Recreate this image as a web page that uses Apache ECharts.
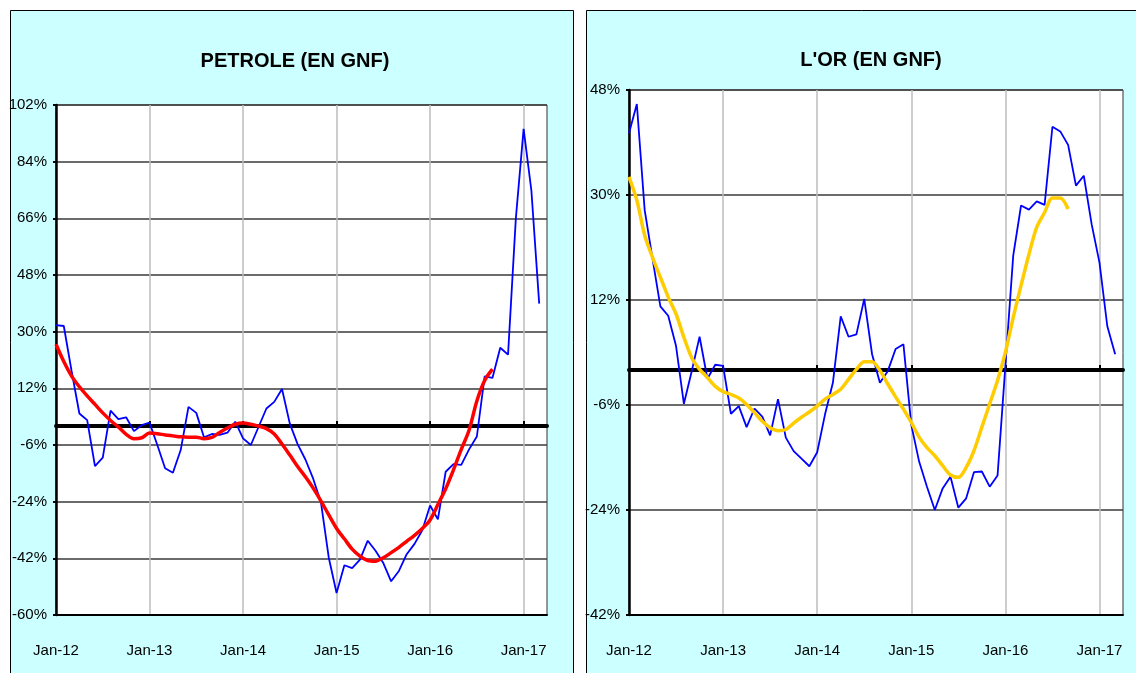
<!DOCTYPE html>
<html>
<head>
<meta charset="utf-8">
<title>PETROLE / L'OR (EN GNF)</title>
<script src="https://cdn.jsdelivr.net/npm/echarts@6/dist/echarts.min.js"></script>
<style>
	html, body { margin: 0; padding: 0; background: #fff; }
	#chart { width: 1136px; height: 673px; }
</style>
</head>
<body>
<div id="chart"></div>
<script>
// mois : Jan-12 ... Apr-17
var monthNames = ['Jan', 'Feb', 'Mar', 'Apr', 'May', 'Jun', 'Jul', 'Aug', 'Sep', 'Oct', 'Nov', 'Dec'];
var years = ['12', '13', '14', '15', '16', '17'];
var categories = [];
for (var y = 0; y < years.length; y++) {
	for (var m = 0; m < 12; m++) {
		if (y == years.length - 1 && m > 3) break;
		categories.push(monthNames[m] + '-' + years[y]);
	}
}

// petrole : variation (%) et tendance
var petroleVar = [32.1, 31.8, 17.5, 4.0, 1.9, -12.7, -10.0, 4.9, 2.2, 2.8,
	-1.6, 0.3, 1.1, -6.0, -13.4, -14.8, -7.6, 6.1, 4.2, -3.6,
	-2.5, -2.8, -2.1, 1.4, -3.9, -6.0, -0.2, 5.6, 7.7, 11.8,
	0.8, -5.7, -10.6, -16.7, -24.3, -41.8, -53.0, -44.2, -45.1, -42.4,
	-36.4, -39.6, -43.5, -49.3, -46.0, -40.7, -37.4, -33.1, -25.2, -29.6,
	-14.5, -12.1, -12.3, -7.4, -3.3, 15.8, 15.3, 24.9, 22.7, 65.9,
	94.4, 74.7, 38.9];
var petroleTrend = [26.0, 20.5, 15.9, 12.5, 9.6, 6.9, 4.2, 1.8, -0.3, -2.6,
	-4.0, -3.7, -2.2, -2.4, -2.8, -3.1, -3.4, -3.5, -3.5, -4.0,
	-3.6, -2.0, -0.6, 0.6, 1.0, 0.6, 0.0, -0.8, -2.5, -5.7,
	-9.2, -12.8, -16.1, -19.7, -23.8, -28.2, -32.5, -35.8, -39.1, -41.3,
	-42.7, -42.9, -41.8, -40.2, -38.5, -36.6, -34.7, -32.5, -29.8, -24.9,
	-19.9, -13.9, -7.4, -1.3, 8.0, 14.5, 18.1];

// or : variation (%) et tendance
var orVar = [40.6, 45.6, 27.4, 19.1, 10.9, 9.3, 4.1, -5.8, -0.2, 5.7,
	-1.5, 0.9, 0.7, -7.5, -6.2, -9.8, -6.6, -8.0, -11.2, -5.0,
	-11.6, -13.9, -15.2, -16.5, -14.1, -7.6, -2.2, 9.2, 5.7, 6.1,
	12.2, 2.7, -2.2, -0.2, 3.6, 4.4, -9.4, -15.7, -20.0, -24.0,
	-20.3, -18.3, -23.6, -22.0, -17.5, -17.4, -20.0, -18.1, 0.7, 19.6,
	28.2, 27.5, 28.9, 28.3, 41.7, 40.9, 38.6, 31.6, 33.3, 25.0,
	18.4, 7.5, 2.7];
var orTrend = [33.1, 29.1, 23.1, 19.3, 15.9, 12.5, 9.6, 5.6, 2.1, 0.1,
	-1.3, -2.8, -3.7, -4.2, -4.8, -5.9, -7.3, -8.8, -9.9, -10.4,
	-10.2, -9.1, -8.1, -7.2, -6.2, -5.0, -4.2, -3.3, -1.6, 0.1,
	1.4, 1.4, -0.1, -2.4, -4.6, -6.7, -9.0, -11.5, -13.3, -14.7,
	-16.4, -18.0, -18.4, -16.7, -13.8, -9.8, -5.8, -1.8, 3.0, 9.0,
	14.5, 19.8, 24.5, 27.0, 29.5, 29.5, 27.6];

// axes y
var petroleAxis = { min: -60, max: 102, interval: 18 };
var orAxis = { min: -42, max: 48, interval: 18 };

var FONT = '"Liberation Sans Narrow", "Arial Narrow", "Liberation Sans", sans-serif';

function isJan(index) {
	return index % 12 === 0;
}

// axe x avec etiquettes en bas
function labelAxis(gridIndex) {
	return {
		type: 'category',
		gridIndex: gridIndex,
		data: categories,
		boundaryGap: false,
		position: 'bottom',
		axisLine: { onZero: false, lineStyle: { color: '#000', width: 2 } },
		axisTick: { show: false },
		axisLabel: {
			interval: function (i) { return isJan(i) && i < 61; },
			color: '#000', fontFamily: FONT, fontSize: 15, margin: 28
		},
		splitLine: {
			show: true,
			interval: function (i) { return isJan(i) && i > 0; },
			lineStyle: { color: '#bdbdbd', width: 1.5 }
		}
	};
}
// axe x sur le zero (trait epais)
function zeroAxis(gridIndex) {
	return {
		type: 'category',
		gridIndex: gridIndex,
		data: categories,
		boundaryGap: false,
		position: 'bottom',
		axisLine: { onZero: true, lineStyle: { color: '#000', width: 4 } },
		axisTick: {
			show: true, inside: true, length: 5,
			interval: function (i) { return isJan(i) && i > 0 && i < 61; },
			lineStyle: { color: '#000', width: 2 }
		},
		axisLabel: { show: false },
		splitLine: { show: false }
	};
}
function valueAxis(gridIndex, ax) {
	return {
		type: 'value',
		gridIndex: gridIndex,
		min: ax.min,
		max: ax.max,
		interval: ax.interval,
		axisLine: { show: true, onZero: false, lineStyle: { color: '#000', width: 2.5 } },
		axisTick: { show: true, length: 3, lineStyle: { color: '#000', width: 2 } },
		axisLabel: {
			formatter: '{value}%', color: '#000',
			fontFamily: FONT, fontSize: 15, margin: 9
		},
		splitLine: { show: true, lineStyle: { color: '#3a3a3a', width: 1.5 } }
	};
}

var chart = echarts.init(document.getElementById('chart'));
var option = {
	backgroundColor: '#fff',
	animation: false,
	// fonds des deux panneaux
	graphic: [
		{ type: 'rect', z: -10, shape: { x: 10.5, y: 10.5, width: 563, height: 680 },
			style: { fill: '#ccffff', stroke: '#000', lineWidth: 1 } },
		{ type: 'rect', z: -10, shape: { x: 586.5, y: 10.5, width: 560, height: 680 },
			style: { fill: '#ccffff', stroke: '#000', lineWidth: 1 } }
	],
	title: [
		{ text: 'PETROLE (EN GNF)', left: 290, top: 46, textAlign: 'center',
			textStyle: { fontFamily: FONT, fontSize: 20, fontWeight: 'bold', color: '#000' } },
		{ text: "L'OR (EN GNF)", left: 866, top: 45, textAlign: 'center',
			textStyle: { fontFamily: FONT, fontSize: 20, fontWeight: 'bold', color: '#000' } }
	],
	grid: [
		{ left: 56, top: 105, width: 491, height: 510, show: true,
			backgroundColor: '#fff', borderColor: '#333', borderWidth: 1 },
		{ left: 629, top: 90, width: 494, height: 525, show: true,
			backgroundColor: '#fff', borderColor: '#333', borderWidth: 1 }
	],
	xAxis: [labelAxis(0), zeroAxis(0), labelAxis(1), zeroAxis(1)],
	yAxis: [valueAxis(0, petroleAxis), valueAxis(1, orAxis)],
	series: [
		{
			name: 'Petrole', type: 'line', xAxisIndex: 0, yAxisIndex: 0,
			data: petroleVar, showSymbol: false,
			lineStyle: { color: '#0000ff', width: 1.8 }, z: 3
		},
		{
			name: 'Tendance petrole', type: 'line', xAxisIndex: 0, yAxisIndex: 0,
			data: petroleTrend, showSymbol: false, smooth: 0.3,
			lineStyle: { color: '#ff0000', width: 3.5 }, z: 4
		},
		{
			name: 'Or', type: 'line', xAxisIndex: 2, yAxisIndex: 1,
			data: orVar, showSymbol: false,
			lineStyle: { color: '#0000ff', width: 1.8 }, z: 3
		},
		{
			name: 'Tendance or', type: 'line', xAxisIndex: 2, yAxisIndex: 1,
			data: orTrend, showSymbol: false, smooth: 0.3,
			lineStyle: { color: '#ffcc00', width: 3.5 }, z: 4
		}
	]
};
chart.setOption(option);
</script>
</body>
</html>
